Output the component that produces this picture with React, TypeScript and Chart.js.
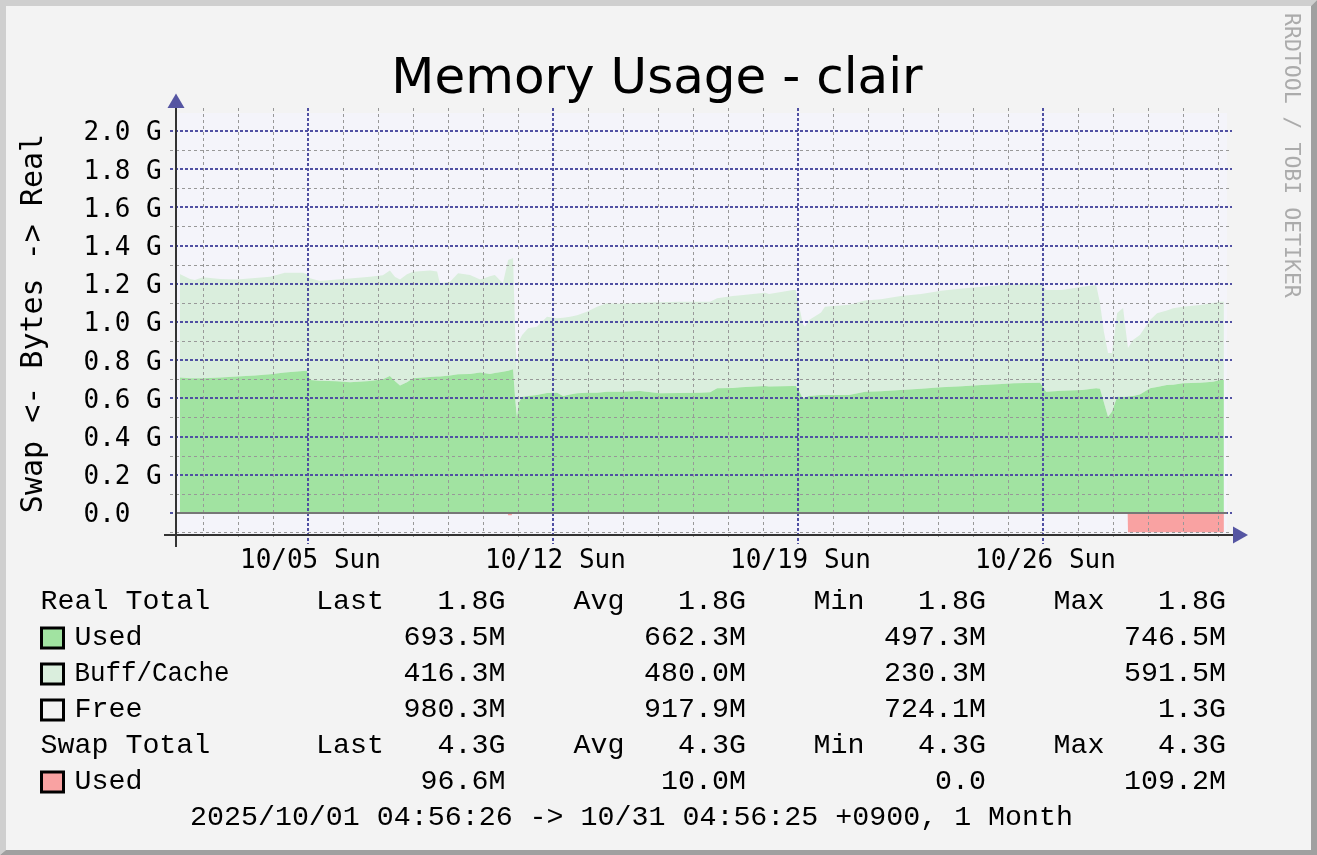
import React, { useEffect, useRef } from 'react';
import { Chart, registerables } from 'chart.js';

Chart.register(...registerables);

// ---- data (time = day of October 2025, values in G) ----
const sampleDays = [
  1.34, 1.63, 1.77, 2.0, 2.49, 2.97, 3.49, 3.92, 4.34, 4.86, 4.97, 5.06, 5.34, 5.83, 6.2, 6.77, 7.14, 7.34, 7.49, 7.63,
  7.83, 8.0, 8.49, 8.69, 8.77, 9.06, 9.29, 9.63, 9.92, 10.2, 10.34, 10.57, 10.72, 10.86, 10.92, 10.97, 11.03, 11.12, 11.29, 11.54,
  11.83, 12.12, 12.29, 12.49, 12.69, 12.97, 13.26, 13.54, 13.92, 14.49, 15.06, 15.63, 16.2, 16.49, 16.69, 17.14, 17.37, 18.06, 18.17, 18.86,
  18.94, 19.06, 19.14, 19.2, 19.32, 19.66, 19.77, 20.46, 20.92, 21.37, 21.94, 22.52, 23.09, 23.69, 24.26, 24.83, 25.17, 25.92, 26.09, 26.54,
  27.12, 27.52, 27.63, 27.74, 27.86, 27.97, 28.12, 28.29, 28.37, 28.43, 28.57, 28.77, 29.06, 29.26, 29.54, 29.72, 30.0, 30.49, 30.86, 31.06,
  31.17,
];
const usedG = [
  0.71, 0.705, 0.705, 0.705, 0.71, 0.714, 0.72, 0.726, 0.735, 0.743, 0.745, 0.696, 0.692, 0.69, 0.684, 0.691, 0.7, 0.717, 0.69, 0.667,
  0.684, 0.705, 0.712, 0.714, 0.714, 0.72, 0.726, 0.728, 0.735, 0.728, 0.733, 0.74, 0.745, 0.752, 0.6, 0.5, 0.58, 0.609, 0.612, 0.618,
  0.628, 0.63, 0.613, 0.62, 0.627, 0.63, 0.63, 0.635, 0.635, 0.639, 0.627, 0.628, 0.63, 0.632, 0.653, 0.655, 0.658, 0.665, 0.662, 0.665,
  0.665, 0.63, 0.6, 0.605, 0.612, 0.618, 0.618, 0.618, 0.635, 0.638, 0.644, 0.65, 0.658, 0.663, 0.67, 0.676, 0.679, 0.682, 0.635, 0.64,
  0.644, 0.653, 0.65, 0.58, 0.504, 0.53, 0.609, 0.609, 0.609, 0.61, 0.612, 0.62, 0.653, 0.66, 0.67, 0.672, 0.679, 0.682, 0.687, 0.696,
  0.696,
];
const buffCacheG = [
  0.541, 0.52, 0.515, 0.529, 0.515, 0.509, 0.51, 0.511, 0.523, 0.515, 0.505, 0.533, 0.523, 0.533, 0.544, 0.546, 0.545, 0.552, 0.545, 0.556,
  0.566, 0.558, 0.558, 0.551, 0.489, 0.491, 0.529, 0.518, 0.488, 0.512, 0.513, 0.463, 0.58, 0.583, 0.35, 0.24, 0.32, 0.323, 0.355, 0.357,
  0.4, 0.389, 0.409, 0.408, 0.408, 0.424, 0.45, 0.463, 0.46, 0.462, 0.477, 0.478, 0.476, 0.474, 0.471, 0.481, 0.482, 0.488, 0.485, 0.503,
  0.503, 0.43, 0.39, 0.37, 0.398, 0.432, 0.462, 0.472, 0.477, 0.481, 0.492, 0.497, 0.506, 0.512, 0.515, 0.518, 0.519, 0.521, 0.533, 0.528,
  0.541, 0.541, 0.45, 0.37, 0.334, 0.308, 0.438, 0.464, 0.341, 0.254, 0.294, 0.312, 0.357, 0.386, 0.39, 0.4, 0.401, 0.407, 0.413, 0.41,
  0.41,
];
const swapDays = [10.7, 10.72, 10.82, 10.84, 28.42, 28.43, 31.17];
const swapUsedG = [0, -0.012, -0.012, 0, 0, -0.101, -0.101];

// ---- axis ticks ----
const yTickValues = [0, 0.2, 0.4, 0.6, 0.8, 1.0, 1.2, 1.4, 1.6, 1.8, 2.0];
const yTickLabels = ['0.0  ', '0.2 G', '0.4 G', '0.6 G', '0.8 G', '1.0 G', '1.2 G', '1.4 G', '1.6 G', '1.8 G', '2.0 G'];
const yMinorValues = [-0.1, 0.1, 0.3, 0.5, 0.7, 0.9, 1.1, 1.3, 1.5, 1.7, 1.9];
const weekDays = [5, 12, 19, 26];
const weekLabels = ['10/05 Sun', '10/12 Sun', '10/19 Sun', '10/26 Sun'];
const dayLines = [2, 3, 4, 6, 7, 8, 9, 10, 11, 13, 14, 15, 16, 17, 18, 20, 21, 22, 23, 24, 25, 27, 28, 29, 30, 31];

// ---- text ----
const titleText = 'Memory Usage - clair';
const yAxisTitle = 'Swap <- Bytes -> Real';
const watermark = 'RRDTOOL / TOBI OETIKER';
const footerText = '2025/10/01 04:56:26 -> 10/31 04:56:25 +0900, 1 Month';

// ---- legend ----
const realTotalValues = ['1.8G', '1.8G', '1.8G', '1.8G'];
const swapTotalValues = ['4.3G', '4.3G', '4.3G', '4.3G'];
const statHeaders = ['Last', 'Avg', 'Min', 'Max'];
const realNames = ['Used', 'Buff/Cache', 'Free'];
const realLast = ['693.5M', '416.3M', '980.3M'];
const realAvg = ['662.3M', '480.0M', '917.9M'];
const realMin = ['497.3M', '230.3M', '724.1M'];
const realMax = ['746.5M', '591.5M', '1.3G'];
const swapUsedStats = ['96.6M', '10.0M', '0.0', '109.2M'];

const COLOR_USED = '#a1e3a1';
const COLOR_BUFF = '#daeedd';
const COLOR_FREE = '#f3f3f3';
const COLOR_SWAP = '#f9a2a2';
const BLUE = '#5050a2';

const W = 1317;
const H = 855;

const rrdPlugin = {
  id: 'rrdDecor',
  beforeDraw(chart: any) {
    const ctx: CanvasRenderingContext2D = chart.ctx;
    const a = chart.chartArea;
    ctx.save();
    ctx.fillStyle = '#f3f3f3';
    ctx.fillRect(0, 0, W, H);
    // 3D border
    ctx.fillStyle = '#cfcfcf';
    ctx.beginPath();
    ctx.moveTo(0, 0); ctx.lineTo(W, 0); ctx.lineTo(W - 6, 6); ctx.lineTo(6, 6); ctx.lineTo(6, H - 5); ctx.lineTo(0, H);
    ctx.closePath(); ctx.fill();
    ctx.fillStyle = '#a0a0a0';
    ctx.beginPath();
    ctx.moveTo(W, 0); ctx.lineTo(W, H); ctx.lineTo(0, H); ctx.lineTo(6, H - 5); ctx.lineTo(W - 6, H - 5); ctx.lineTo(W - 6, 6);
    ctx.closePath(); ctx.fill();
    // plot background
    ctx.fillStyle = '#f4f4fa';
    ctx.fillRect(a.left, a.top, a.right - a.left + 1, a.bottom - a.top);
    ctx.restore();
  },
  afterDraw(chart: any) {
    const ctx: CanvasRenderingContext2D = chart.ctx;
    const a = chart.chartArea;
    const xs = chart.scales.x;
    const ys = chart.scales.y;
    ctx.save();

    // minor horizontal grid
    ctx.strokeStyle = '#989898';
    ctx.lineWidth = 1;
    ctx.setLineDash([3, 3]);
    for (const v of yMinorValues) {
      const y = Math.round(ys.getPixelForValue(v)) + 0.5;
      ctx.beginPath(); ctx.moveTo(170, y); ctx.lineTo(1232, y); ctx.stroke();
    }
    // minor vertical grid
    for (const d of dayLines) {
      const x = Math.round(xs.getPixelForValue(d)) + 0.5;
      ctx.beginPath(); ctx.moveTo(x, 108); ctx.lineTo(x, 540); ctx.stroke();
    }
    // major grid
    ctx.strokeStyle = BLUE;
    ctx.lineWidth = 2;
    ctx.setLineDash([3, 2]);
    for (const v of yTickValues) {
      const y = Math.round(ys.getPixelForValue(v));
      ctx.beginPath(); ctx.moveTo(170, y); ctx.lineTo(1232, y); ctx.stroke();
    }
    for (const d of weekDays) {
      const x = Math.round(xs.getPixelForValue(d));
      ctx.beginPath(); ctx.moveTo(x, 108); ctx.lineTo(x, 544); ctx.stroke();
    }
    ctx.setLineDash([]);

    // zero line
    const y0 = Math.round(ys.getPixelForValue(0));
    ctx.strokeStyle = '#777777';
    ctx.lineWidth = 2;
    ctx.beginPath(); ctx.moveTo(a.left, y0); ctx.lineTo(a.right + 1, y0); ctx.stroke();

    // axes
    const ax = a.left;
    const ay = a.bottom + 1;
    ctx.strokeStyle = '#333333';
    ctx.lineWidth = 2;
    ctx.beginPath(); ctx.moveTo(ax, 106); ctx.lineTo(ax, 547); ctx.stroke();
    ctx.beginPath(); ctx.moveTo(164, ay); ctx.lineTo(1236, ay); ctx.stroke();
    ctx.fillStyle = '#5555a2';
    ctx.beginPath(); ctx.moveTo(ax - 8.5, 108); ctx.lineTo(ax + 8.5, 108); ctx.lineTo(ax, 93.5); ctx.closePath(); ctx.fill();
    ctx.beginPath(); ctx.moveTo(1233, ay - 8.5); ctx.lineTo(1233, ay + 8.5); ctx.lineTo(1248, ay); ctx.closePath(); ctx.fill();

    // tick labels
    ctx.fillStyle = '#000';
    ctx.font = '26px "DejaVu Sans Mono"';
    ctx.textBaseline = 'alphabetic';
    ctx.textAlign = 'left';
    yTickValues.forEach((v, i) => {
      const y = ys.getPixelForValue(v);
      ctx.fillText(yTickLabels[i], 83.5, y + 9.5);
    });
    ctx.textAlign = 'center';
    weekDays.forEach((d, i) => {
      const x = xs.getPixelForValue(d);
      ctx.fillText(weekLabels[i], x + 2.5, 567.5);
    });

    // title
    ctx.font = '50px "DejaVu Sans"';
    ctx.textAlign = 'center';
    ctx.fillText(titleText, 657, 93);

    // y axis title
    ctx.save();
    ctx.translate(41.5, 323.5);
    ctx.rotate(-Math.PI / 2);
    ctx.font = '30px "DejaVu Sans Mono"';
    ctx.textAlign = 'center';
    ctx.fillText(yAxisTitle, 0, 0);
    ctx.restore();

    // watermark
    ctx.save();
    ctx.translate(1284.5, 13);
    ctx.rotate(Math.PI / 2);
    ctx.font = '21.5px "DejaVu Sans Mono"';
    ctx.textAlign = 'left';
    ctx.fillStyle = '#ababab';
    ctx.fillText(watermark, 0, 0);
    ctx.restore();

    // legend
    ctx.font = '28.3px "Liberation Mono"';
    ctx.fillStyle = '#000';
    const headerX = [316, 573.5, 813.5, 1053.5];
    const valueX = [505.5, 746, 986, 1226];
    const rowY = [609, 645, 681, 717, 753, 789];
    const nameMaxW = [70, 155, 70];
    const swatch = (y: number, color: string) => {
      ctx.fillStyle = '#000';
      ctx.fillRect(40, y - 18.5, 25, 23);
      ctx.fillStyle = color;
      ctx.fillRect(43, y - 15.5, 19, 17);
      ctx.fillStyle = '#000';
    };
    const totalRow = (y: number, name: string, vals: string[]) => {
      ctx.textAlign = 'left';
      ctx.fillText(name, 40.5, y);
      statHeaders.forEach((h, i) => ctx.fillText(h, headerX[i], y));
      ctx.textAlign = 'right';
      vals.forEach((v, i) => ctx.fillText(v, valueX[i], y));
    };
    const itemRow = (y: number, name: string, color: string, vals: string[], maxW: number) => {
      swatch(y, color);
      ctx.textAlign = 'left';
      ctx.fillText(name, 74.5, y, maxW);
      ctx.textAlign = 'right';
      vals.forEach((v, i) => ctx.fillText(v, valueX[i], y));
    };
    totalRow(rowY[0], 'Real Total', realTotalValues);
    const realColors = [COLOR_USED, COLOR_BUFF, COLOR_FREE];
    realNames.forEach((n, i) => {
      itemRow(rowY[i + 1], n, realColors[i], [realLast[i], realAvg[i], realMin[i], realMax[i]], nameMaxW[i]);
    });
    totalRow(rowY[4], 'Swap Total', swapTotalValues);
    itemRow(rowY[5], 'Used', COLOR_SWAP, swapUsedStats, 70);
    ctx.textAlign = 'left';
    ctx.fillText(footerText, 190, 825);

    ctx.restore();
  },
};

export default function App() {
  const ref = useRef<HTMLCanvasElement | null>(null);
  useEffect(() => {
    if (!ref.current) return;
    const usedPts = sampleDays.map((d, i) => ({ x: d, y: usedG[i] }));
    const cachePts = sampleDays.map((d, i) => ({ x: d, y: usedG[i] + buffCacheG[i] }));
    const swapPts = swapDays.map((d, i) => ({ x: d, y: swapUsedG[i] }));
    const common = { borderWidth: 0, borderColor: 'rgba(0,0,0,0)', pointRadius: 0, tension: 0 };
    const chart = new Chart(ref.current, {
      type: 'line',
      data: {
        datasets: [
          { label: 'Used', data: usedPts, fill: 'origin', backgroundColor: COLOR_USED, ...common },
          { label: 'Buff/Cache', data: cachePts, fill: '-1', backgroundColor: COLOR_BUFF, ...common },
          { label: 'Swap Used', data: swapPts, fill: 'origin', backgroundColor: COLOR_SWAP, ...common },
        ],
      },
      options: {
        animation: false,
        responsive: false,
        maintainAspectRatio: false,
        devicePixelRatio: 1,
        events: [],
        layout: { padding: { left: 176, top: 113, right: W - 1226, bottom: H - 534 } },
        plugins: { legend: { display: false }, tooltip: { enabled: false }, title: { display: false } },
        scales: {
          x: { type: 'linear', min: 1.23, max: 31.23, display: false },
          y: { type: 'linear', min: -0.10995, max: 2.0942, display: false },
        },
      },
      plugins: [rrdPlugin],
    } as any);
    return () => chart.destroy();
  }, []);
  return (
    <div style={{ position: 'absolute', left: 0, top: 0, width: W, height: H, background: '#f3f3f3' }}>
      <canvas ref={ref} width={W} height={H} style={{ display: 'block', width: W, height: H }} />
    </div>
  );
}
